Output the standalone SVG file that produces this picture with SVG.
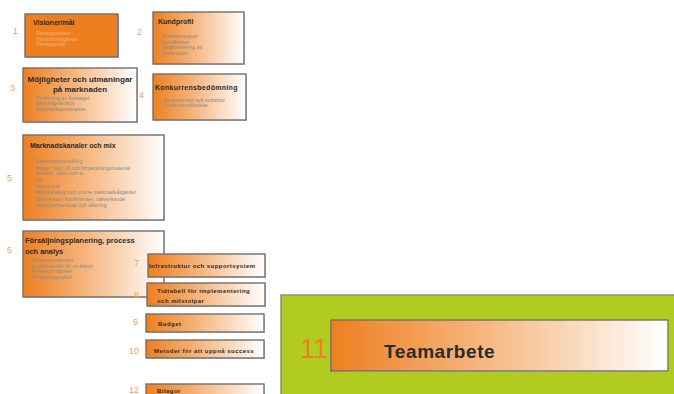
<svg xmlns="http://www.w3.org/2000/svg" width="674" height="394" viewBox="0 0 674 394">
  <defs>
    <linearGradient id="fade" x1="0" y1="0" x2="1" y2="0">
      <stop offset="0" stop-color="#EE7F1F"/>
      <stop offset="0.45" stop-color="#F6B67E"/>
      <stop offset="1" stop-color="#FFFFFF"/>
    </linearGradient>
    <style>
      .box { fill: url(#fade); stroke: #6f6f6f; stroke-width: 1.4; }
      .solid { fill: #EE7F1F; stroke: #6f6f6f; stroke-width: 1.4; }
      .shadow { fill: #cfcfcf; }
      .num { font-family: "Liberation Sans", Arial, sans-serif; font-size: 9px; fill: #F3A05A; }
      .title { font-family: "Liberation Sans", Arial, sans-serif; font-size: 7px; font-weight: bold; fill: #2b2b2b; }
      .bar { font-family: "Liberation Sans", Arial, sans-serif; font-size: 6px; font-weight: bold; fill: #2b2b2b; letter-spacing: 0.45px; }
      .item { font-family: "Liberation Sans", Arial, sans-serif; font-size: 5.3px; fill: #8a8a8a; }
    </style>
  </defs>

  <rect width="674" height="394" fill="#FFFFFF"/>

  <!-- Teamwork panel -->
  <g id="panel-11">
    <rect x="281" y="295" width="395" height="101" fill="#B1CC1F" stroke="#8a8a8a" stroke-width="1.5"/>
    <rect x="332" y="321" width="337" height="51" class="shadow"/>
    <rect x="331" y="320" width="337" height="51" class="box"/>
    <text x="328" y="358" text-anchor="end" font-family="'Liberation Sans', Arial, sans-serif" font-size="27" fill="#EE7F1F">11</text>
    <text x="384" y="358" font-family="'Liberation Sans', Arial, sans-serif" font-size="19" font-weight="bold" letter-spacing="0.6" fill="#2b2b2b">Teamarbete</text>
  </g>

  <g id="node-1">
    <rect x="26" y="15" width="93" height="43" class="shadow"/>
    <rect x="25" y="14" width="93" height="43" class="solid"/>
    <text x="13" y="34" class="num">1</text>
    <text x="33" y="25" class="title">Visioner/mål</text>
    <text x="36" y="35" class="item" fill="#F5B27A" style="fill:#F5B27A">Företagsvision</text>
    <text x="36" y="40.5" class="item" style="fill:#F5B27A">Tillväxtmöjligheter</text>
    <text x="36" y="46" class="item" style="fill:#F5B27A">Företagsmål</text>
  </g>

  <g id="node-2">
    <rect x="154" y="13" width="91" height="52" class="shadow"/>
    <rect x="153" y="12" width="91" height="52" class="box"/>
    <text x="137" y="35" class="num">2</text>
    <text x="158" y="24" class="title">Kundprofil</text>
    <text x="162" y="38" class="item">Kunddemografi</text>
    <text x="162" y="43.5" class="item">Kundbehov</text>
    <text x="162" y="49" class="item">Segmentering av</text>
    <text x="162" y="54.5" class="item">marknaden</text>
  </g>

  <g id="node-3">
    <rect x="24" y="69" width="114" height="54" class="shadow"/>
    <rect x="23" y="68" width="114" height="54" class="box"/>
    <text x="10" y="91" class="num">3</text>
    <text x="80" y="82" text-anchor="middle" class="title" font-size="8" style="font-size:8px">Möjligheter och utmaningar</text>
    <text x="80" y="91.5" text-anchor="middle" class="title" style="font-size:8px">på marknaden</text>
    <text x="36" y="99.5" class="item">Profilering av företaget</text>
    <text x="36" y="105" class="item">Efterfrågeanalys</text>
    <text x="36" y="110.5" class="item">Marknadspenetration</text>
  </g>

  <g id="node-4">
    <rect x="154" y="75" width="93" height="46" class="shadow"/>
    <rect x="153" y="74" width="93" height="46" class="box"/>
    <text x="139" y="98" class="num">4</text>
    <text x="155" y="89.5" class="title" letter-spacing="0.3">Konkurrensbedömning</text>
    <text x="163" y="101.5" class="item">Konkurrenter och substitut</text>
    <text x="163" y="107" class="item">Konkurrensfördelar</text>
  </g>

  <g id="node-5">
    <rect x="24" y="136" width="141" height="85" class="shadow"/>
    <rect x="23" y="135" width="141" height="85" class="box"/>
    <text x="7" y="181" class="num">5</text>
    <text x="30" y="147.5" class="title">Marknadskanaler och mix</text>
    <text x="35" y="162.5" class="item">Säkerhetsutveckling</text>
    <text x="35" y="170" class="item">Image, logo, id och förpackningsmaterial</text>
    <text x="35" y="175" class="item">Reklam, radio och tv</text>
    <text x="35" y="181.5" class="item">PR</text>
    <text x="35" y="188" class="item">Direct mail</text>
    <text x="35" y="194" class="item">Webbstrategi och online marknadsåtgärder</text>
    <text x="35" y="200.5" class="item">Medverkan i konferenser, nätverkande</text>
    <text x="35" y="207" class="item">Affärspartnerskap och alliering</text>
  </g>

  <g id="node-6">
    <rect x="24" y="232" width="141" height="66" class="shadow"/>
    <rect x="23" y="231" width="141" height="66" class="box"/>
    <text x="7" y="253" class="num">6</text>
    <text x="25" y="242.5" class="title" style="font-size:7.4px">Försäljningsplanering, process</text>
    <text x="25" y="253.5" class="title" style="font-size:7.4px">och analys</text>
    <text x="31" y="262" class="item">Breakeven-analys</text>
    <text x="31" y="267.5" class="item">Livstidsvärdet för en klient</text>
    <text x="31" y="273" class="item">Referensmönster</text>
    <text x="31" y="278.5" class="item">Försäljningscykel</text>
  </g>

  <g id="node-7">
    <rect x="149" y="255" width="117" height="23" class="shadow"/>
    <rect x="148" y="254" width="117" height="23" class="box"/>
    <text x="134" y="266" class="num">7</text>
    <text x="149" y="268" class="bar">Infrastruktur och supportsystem</text>
  </g>

  <g id="node-8">
    <rect x="148" y="284" width="118" height="23" class="shadow"/>
    <rect x="147" y="283" width="118" height="23" class="box"/>
    <text x="134" y="298" class="num">8</text>
    <text x="157" y="293" class="bar">Tidtabell för implementering</text>
    <text x="157" y="302.5" class="bar">och milstolpar</text>
  </g>

  <g id="node-9">
    <rect x="147" y="315" width="118" height="18" class="shadow"/>
    <rect x="146" y="314" width="118" height="18" class="box"/>
    <text x="133" y="325" class="num">9</text>
    <text x="158" y="326" class="bar">Budget</text>
  </g>

  <g id="node-10">
    <rect x="147" y="341" width="118" height="18" class="shadow"/>
    <rect x="146" y="340" width="118" height="18" class="box"/>
    <text x="129" y="354" class="num">10</text>
    <text x="154" y="353" class="bar">Metoder för att uppnå success</text>
  </g>

  <g id="node-12">
    <rect x="147" y="385" width="118" height="18" class="shadow"/>
    <rect x="146" y="384" width="118" height="18" class="box"/>
    <text x="129" y="393" class="num">12</text>
    <text x="157" y="393" class="bar">Bilagor</text>
  </g>

  <!-- no connectors are drawn between the sections -->
  <g id="connectors"/>
</svg>
